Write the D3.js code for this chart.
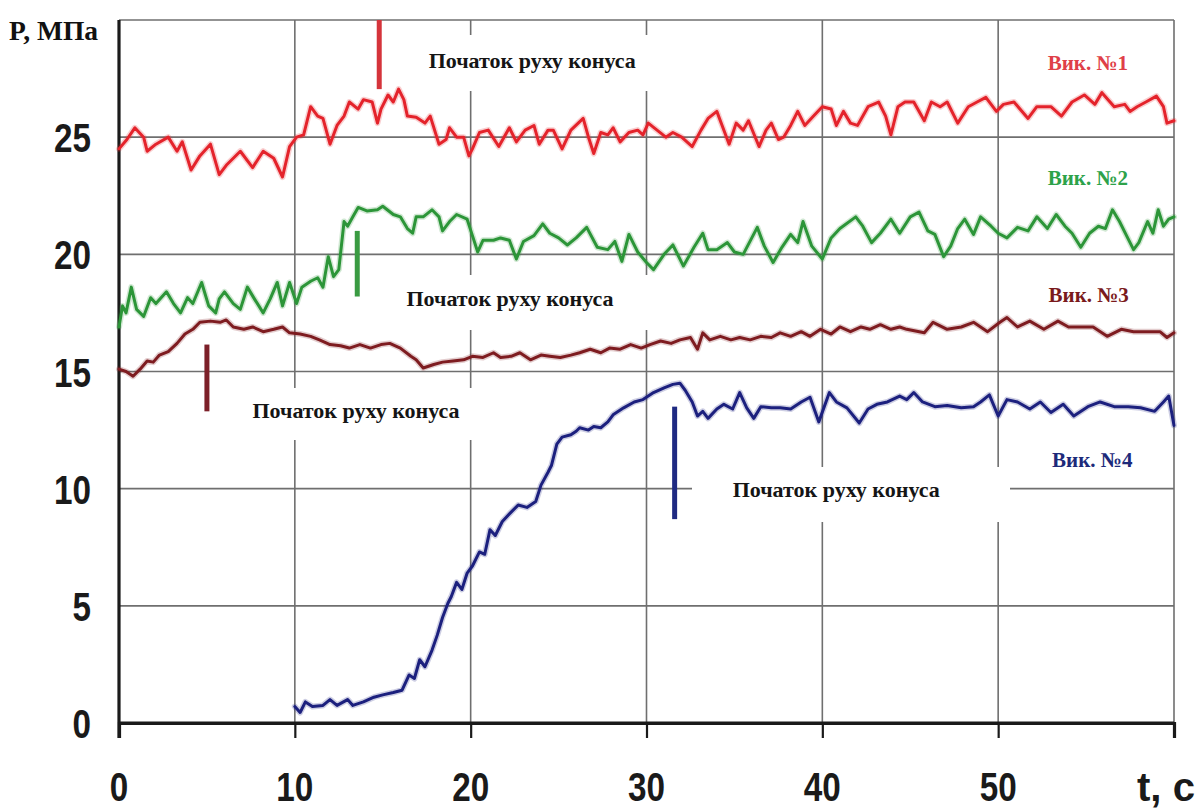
<!DOCTYPE html>
<html>
<head>
<meta charset="utf-8">
<script src="https://cdn.jsdelivr.net/npm/d3@7/dist/d3.min.js"></script>
<style>
  html, body { margin: 0; padding: 0; background: #fff; }
  svg { display: block; }
</style>
</head>
<body>
<svg id="chart" width="1201" height="809"></svg>
<script>
// ---------------- DATA ----------------
const xTicks = [0, 10, 20, 30, 40, 50];
const yTicks = [0, 5, 10, 15, 20, 25];
const xGrid = [10, 20, 30, 40, 50];
const yGrid = [5, 10, 15, 20, 25];
const xTitle = "t, c";
const yTitle = "P, МПа";
const seriesNames = ["Вик. №1", "Вик. №2", "Вик. №3", "Вик. №4"];
const noteText = "Початок руху конуса";

// [t, P] pairs
const vyk1 = [[0,24.5],[0.45,24.9],[0.9,25.4],[1.4,25.0],[1.6,24.4],[2.1,24.7],[2.8,25.0],[3.3,24.4],[3.6,24.8],[4.1,23.6],[4.6,24.2],[5.2,24.7],[5.7,23.4],[6.1,23.8],[6.9,24.4],[7.6,23.7],[8.2,24.4],[8.8,24.1],[9.3,23.3],[9.7,24.6],[10.1,25.0],[10.5,25.1],[10.9,26.3],[11.3,25.9],[11.6,25.8],[12.0,24.7],[12.4,25.5],[12.8,25.9],[13.1,26.5],[13.6,26.2],[13.9,26.6],[14.4,26.5],[14.7,25.6],[14.9,26.2],[15.3,26.8],[15.6,26.5],[15.9,27.05],[16.2,26.6],[16.4,25.9],[16.9,25.85],[17.4,25.6],[17.7,25.9],[18.2,24.7],[18.6,24.9],[18.8,25.4],[19.2,25.0],[19.6,25.0],[19.9,24.2],[20.1,24.5],[20.5,25.2],[21.0,25.3],[21.6,24.6],[22.2,25.4],[22.6,24.8],[23.1,25.3],[23.6,25.5],[23.9,24.7],[24.4,25.3],[24.7,25.3],[25.2,24.5],[25.7,25.3],[26.4,25.8],[26.7,25.0],[27.0,24.3],[27.4,25.2],[27.8,25.1],[28.1,25.4],[28.5,24.8],[29.0,25.2],[29.5,25.3],[29.8,25.1],[30.1,25.6],[30.6,25.3],[31.1,25.0],[31.5,25.2],[32.0,25.0],[32.6,24.6],[33.1,25.3],[33.5,25.8],[34.0,26.1],[34.3,25.5],[34.7,24.7],[35.1,25.6],[35.5,25.3],[35.8,25.7],[36.4,24.6],[36.8,25.3],[37.1,25.6],[37.5,24.9],[37.8,25.0],[38.2,25.5],[38.6,26.1],[39.0,25.5],[39.5,25.9],[40.0,26.3],[40.5,26.2],[40.8,25.5],[41.2,26.1],[41.6,25.6],[42.0,25.5],[42.6,26.3],[43.2,26.5],[43.6,25.9],[43.9,25.1],[44.3,26.3],[44.7,26.5],[45.2,26.5],[45.8,25.7],[46.2,26.5],[46.7,26.3],[47.1,26.5],[47.7,25.6],[48.3,26.3],[48.8,26.5],[49.3,26.7],[49.9,26.1],[50.3,26.4],[50.9,26.5],[51.7,25.8],[52.2,26.3],[53.0,26.3],[53.6,25.9],[54.2,26.5],[54.9,26.8],[55.5,26.4],[55.9,26.9],[56.6,26.3],[57.2,26.4],[57.5,26.1],[57.9,26.3],[58.4,26.5],[59.0,26.75],[59.4,26.3],[59.6,25.6],[60.0,25.7]];

const vyk2 = [[0,16.9],[0.2,17.8],[0.4,17.5],[0.7,18.6],[1.0,17.65],[1.4,17.35],[1.8,18.15],[2.1,17.9],[2.7,18.4],[3.1,17.9],[3.5,17.5],[3.9,18.15],[4.2,17.9],[4.7,18.8],[5.1,17.8],[5.5,17.5],[5.7,18.1],[6.0,18.4],[6.5,17.9],[6.9,17.65],[7.3,18.6],[7.7,18.1],[8.2,17.5],[8.6,18.1],[9.0,18.8],[9.3,17.8],[9.7,18.8],[10.1,17.9],[10.4,18.6],[10.9,18.85],[11.3,19.0],[11.6,18.6],[11.9,19.9],[12.2,19.05],[12.5,19.35],[12.8,21.4],[13.0,21.2],[13.3,21.6],[13.6,22.0],[14.1,21.85],[14.7,21.9],[15.0,22.05],[15.6,21.7],[16.0,21.6],[16.4,21.1],[16.7,20.9],[16.9,21.6],[17.3,21.6],[17.8,21.9],[18.2,21.6],[18.4,21.0],[18.8,21.4],[19.2,21.7],[19.8,21.5],[20.1,20.8],[20.4,20.1],[20.7,20.6],[21.3,20.6],[21.7,20.7],[22.2,20.6],[22.6,19.8],[23.0,20.55],[23.6,20.8],[24.1,21.3],[24.5,20.9],[25.0,20.7],[25.5,20.4],[26.0,20.7],[26.6,21.15],[27.2,20.3],[27.8,20.2],[28.2,20.55],[28.6,19.7],[29.0,20.85],[29.5,20.1],[30.0,19.65],[30.4,19.35],[31.0,20.0],[31.5,20.4],[32.1,19.5],[32.7,20.3],[33.2,20.9],[33.5,20.2],[34.0,20.2],[34.6,20.5],[35.0,20.1],[35.5,20.0],[36.3,21.15],[36.7,20.35],[37.2,19.65],[37.7,20.3],[38.2,20.85],[38.6,20.5],[38.9,21.4],[39.4,20.35],[40.0,19.8],[40.5,20.7],[41.0,21.1],[41.9,21.6],[42.3,21.2],[42.8,20.5],[43.3,20.9],[43.9,21.5],[44.4,20.9],[45.0,21.6],[45.5,21.8],[46.0,21.0],[46.4,20.85],[46.9,19.9],[47.3,20.35],[47.7,21.1],[48.1,21.5],[48.6,20.85],[49.0,21.6],[49.6,21.2],[50.0,20.9],[50.5,20.7],[51.1,21.15],[51.7,21.0],[52.2,21.6],[52.8,21.1],[53.3,21.7],[53.8,21.2],[54.2,20.9],[54.7,20.3],[55.2,20.9],[55.7,21.2],[56.1,21.1],[56.5,21.9],[56.9,21.4],[57.3,20.8],[57.7,20.2],[58.0,20.5],[58.5,21.4],[58.8,20.9],[59.1,21.9],[59.4,21.2],[59.7,21.5],[60.0,21.6]];

const vyk3 = [[0,15.1],[0.4,15.0],[0.8,14.8],[1.2,15.1],[1.6,15.45],[1.95,15.4],[2.3,15.7],[2.8,15.85],[3.3,16.2],[3.75,16.6],[4.2,16.8],[4.6,17.1],[5.2,17.15],[5.75,17.1],[6.1,17.2],[6.5,16.9],[7.1,16.8],[7.6,16.9],[8.2,16.7],[8.8,16.8],[9.3,16.9],[9.7,16.65],[10.3,16.6],[10.9,16.5],[11.4,16.35],[12.0,16.15],[12.6,16.1],[13.1,16.0],[13.7,16.15],[14.3,16.0],[14.9,16.15],[15.4,16.2],[16.0,16.0],[16.6,15.65],[16.9,15.5],[17.3,15.15],[17.9,15.3],[18.4,15.4],[19.0,15.45],[19.6,15.5],[20.1,15.65],[20.7,15.6],[21.3,15.8],[21.7,15.6],[22.3,15.65],[22.8,15.8],[23.4,15.5],[24.0,15.7],[24.5,15.65],[25.1,15.6],[25.7,15.7],[26.2,15.8],[26.8,15.95],[27.4,15.8],[27.9,16.0],[28.5,15.95],[29.1,16.15],[29.7,16.0],[30.2,16.15],[30.8,16.3],[31.4,16.2],[31.9,16.35],[32.5,16.45],[32.9,15.95],[33.2,16.65],[33.6,16.35],[34.2,16.5],[34.8,16.35],[35.3,16.45],[35.9,16.35],[36.5,16.5],[37.1,16.45],[37.6,16.65],[38.2,16.5],[38.8,16.7],[39.3,16.5],[39.9,16.8],[40.5,16.6],[41.0,16.9],[41.6,16.7],[42.2,16.9],[42.7,16.8],[43.3,17.0],[43.9,16.8],[44.4,16.9],[44.8,16.8],[45.8,16.65],[46.3,17.1],[47.1,16.8],[47.9,16.9],[48.6,17.1],[49.4,16.7],[50.1,17.1],[50.5,17.3],[51.1,16.9],[51.8,17.15],[52.6,16.8],[53.4,17.15],[54.0,16.9],[54.7,16.9],[55.4,16.9],[56.2,16.5],[57.0,16.8],[57.7,16.7],[58.5,16.7],[59.2,16.7],[59.6,16.45],[60.0,16.65]];

const vyk4 = [[10.0,0.7],[10.3,0.45],[10.6,0.9],[11.0,0.7],[11.6,0.75],[12.0,1.0],[12.4,0.75],[13.0,1.0],[13.3,0.75],[13.9,0.9],[14.5,1.1],[15.0,1.2],[15.6,1.3],[16.1,1.4],[16.5,2.05],[16.8,1.9],[17.1,2.7],[17.4,2.4],[17.8,3.1],[18.1,3.75],[18.4,4.5],[18.7,5.1],[18.9,5.4],[19.2,6.0],[19.5,5.7],[19.8,6.4],[20.1,6.7],[20.5,7.3],[20.8,7.2],[21.1,8.25],[21.4,8.0],[21.8,8.6],[22.3,9.0],[22.7,9.3],[23.2,9.2],[23.7,9.45],[24.0,10.15],[24.4,10.7],[24.6,11.0],[24.9,11.9],[25.2,12.2],[25.7,12.3],[26.0,12.45],[26.2,12.6],[26.7,12.5],[27.0,12.65],[27.4,12.6],[27.8,12.85],[28.1,13.15],[28.7,13.45],[29.3,13.7],[29.8,13.8],[30.4,14.1],[31.0,14.3],[31.5,14.45],[31.9,14.5],[32.2,14.2],[32.6,13.7],[32.9,13.1],[33.2,13.3],[33.5,13.0],[34.0,13.4],[34.4,13.6],[34.9,13.4],[35.3,14.1],[35.7,13.45],[36.1,13.0],[36.5,13.5],[37.1,13.45],[37.6,13.45],[38.2,13.4],[38.8,13.7],[39.3,13.9],[39.8,12.85],[40.4,14.1],[40.8,13.7],[41.4,13.45],[42.1,12.8],[42.6,13.4],[43.1,13.6],[43.7,13.7],[44.4,13.95],[44.8,13.8],[45.2,14.1],[45.7,13.7],[46.4,13.5],[47.1,13.55],[47.9,13.45],[48.6,13.5],[49.0,13.7],[49.5,14.0],[50.0,13.1],[50.5,13.8],[51.1,13.7],[51.8,13.4],[52.4,13.7],[53.0,13.25],[53.7,13.6],[54.3,13.1],[55.1,13.5],[55.8,13.7],[56.6,13.5],[57.4,13.5],[58.1,13.45],[58.9,13.3],[59.4,13.7],[59.7,13.95],[60.0,12.7]];

// "start of cone movement" markers: [t, P from, P to]
const moveStart = [[14.8, 27.05, 30.0], [13.55, 18.2, 21.0], [5.0, 13.3, 16.15], [31.6, 8.7, 13.5]];

// ---------------- LAYOUT / STYLE ----------------
const M = { left: 119, right: 1174, top: 20, bottom: 723 };
const colors = ["#e4232b", "#2c9538", "#7e1c20", "#1c207e"];
const markColors = ["#d5343b", "#3a9b42", "#7c2029", "#1f2a82"];
const labelColors = ["#df3f48", "#2da24a", "#7a1a1c", "#1d2a7a"];
const labelPos = [[55.1, 27.85], [55.1, 22.95], [55.15, 17.95], [55.35, 10.93]];
const notePos = [[23.5, 27.96], [22.24, 17.8], [13.48, 13.02], [40.79, 9.65]];
const noteBoxes = [[410, 35, 255, 56], [380, 275, 285, 55], [235, 388, 255, 52], [692, 467, 318, 55]];
const digitW = 18.5;   // condensed digit width in px

const svg = d3.select("#chart");
const x = d3.scaleLinear().domain([0, 60]).range([M.left, M.right]);
const y = d3.scaleLinear().domain([0, 30]).range([M.bottom, M.top]);

const numFont = '"Liberation Sans", Arial, sans-serif';
const serif = '"Liberation Serif", "DejaVu Serif", serif';

// grid
const grid = svg.append("g").attr("stroke", "#6f6f6f").attr("stroke-width", 1.6);
grid.selectAll("line.v").data(xGrid).join("line")
  .attr("x1", d => x(d)).attr("x2", d => x(d)).attr("y1", M.top).attr("y2", M.bottom);
grid.selectAll("line.h").data(yGrid).join("line")
  .attr("x1", M.left).attr("x2", M.right).attr("y1", d => y(d)).attr("y2", d => y(d));
grid.append("line").attr("x1", M.left).attr("x2", M.right).attr("y1", M.top).attr("y2", M.top);
grid.append("line").attr("x1", M.right).attr("x2", M.right).attr("y1", M.top).attr("y2", M.bottom);

// white boxes behind annotation text
svg.append("g").selectAll("rect").data(noteBoxes).join("rect")
  .attr("x", d => d[0]).attr("y", d => d[1]).attr("width", d => d[2]).attr("height", d => d[3])
  .attr("fill", "#fff");

// axes
const xAxis = d3.axisBottom(x).tickValues(d3.range(0, 61, 10)).tickSize(15).tickFormat("");
const gx = svg.append("g").attr("transform", `translate(0,${M.bottom})`).call(xAxis);
gx.select(".domain").attr("stroke", "#1a1a1a").attr("stroke-width", 3.2);
gx.selectAll(".tick line").attr("stroke", "#1a1a1a").attr("stroke-width", 2.2);

svg.append("line").attr("x1", M.left).attr("x2", M.left).attr("y1", M.top).attr("y2", M.bottom + 15)
  .attr("stroke", "#1a1a1a").attr("stroke-width", 3.2);
svg.append("line").attr("x1", M.left).attr("x2", M.right).attr("y1", M.bottom).attr("y2", M.bottom)
  .attr("stroke", "#1a1a1a").attr("stroke-width", 3.2);

// tick labels (condensed via textLength)
svg.append("g").selectAll("text").data(yTicks).join("text")
  .attr("x", 91).attr("y", d => y(d) + 15)
  .attr("text-anchor", "end")
  .attr("textLength", d => String(d).length * digitW).attr("lengthAdjust", "spacingAndGlyphs")
  .attr("font-family", numFont).attr("font-weight", "bold").attr("font-size", 41)
  .attr("fill", "#1a1a1a").text(d => d);
svg.append("g").selectAll("text").data(xTicks).join("text")
  .attr("x", d => x(d)).attr("y", 801)
  .attr("text-anchor", "middle")
  .attr("textLength", d => String(d).length * digitW).attr("lengthAdjust", "spacingAndGlyphs")
  .attr("font-family", numFont).attr("font-weight", "bold").attr("font-size", 41)
  .attr("fill", "#1a1a1a").text(d => d);
svg.append("text").attr("x", 1137).attr("y", 801)
  .attr("textLength", 58).attr("lengthAdjust", "spacingAndGlyphs")
  .attr("font-family", numFont).attr("font-weight", "bold").attr("font-size", 41)
  .attr("fill", "#1a1a1a").text(xTitle);
svg.append("text").attr("x", 9).attr("y", 40)
  .attr("font-family", serif).attr("font-weight", "bold").attr("font-size", 27.5)
  .attr("fill", "#111").text(yTitle);

// series
const line = d3.line().x(d => x(d[0])).y(d => y(d[1])).curve(d3.curveLinear);
const all = [vyk1, vyk2, vyk3, vyk4];
const sg = svg.append("g").attr("fill", "none").attr("stroke-linejoin", "round").attr("stroke-linecap", "round");
all.forEach((s, i) => {
  sg.append("path").attr("d", line(s)).attr("stroke", colors[i]).attr("stroke-width", 6).attr("opacity", 0.22);
  sg.append("path").attr("d", line(s)).attr("stroke", colors[i]).attr("stroke-width", 3);
});

// markers
svg.append("g").selectAll("line").data(moveStart).join("line")
  .attr("x1", d => x(d[0])).attr("x2", d => x(d[0]))
  .attr("y1", d => y(d[1])).attr("y2", d => y(d[2]))
  .attr("stroke", (d, i) => markColors[i]).attr("stroke-width", 5);

// annotation texts
svg.append("g").selectAll("text").data(notePos).join("text")
  .attr("x", d => x(d[0])).attr("y", d => y(d[1]))
  .attr("text-anchor", "middle")
  .attr("font-family", serif).attr("font-weight", "bold").attr("font-size", 22)
  .attr("fill", "#151515").text(noteText);

// series labels
svg.append("g").selectAll("text").data(labelPos).join("text")
  .attr("x", d => x(d[0])).attr("y", d => y(d[1]))
  .attr("text-anchor", "middle")
  .attr("font-family", serif).attr("font-weight", "bold").attr("font-size", 21)
  .attr("fill", (d, i) => labelColors[i]).text((d, i) => seriesNames[i]);
</script>
</body>
</html>
